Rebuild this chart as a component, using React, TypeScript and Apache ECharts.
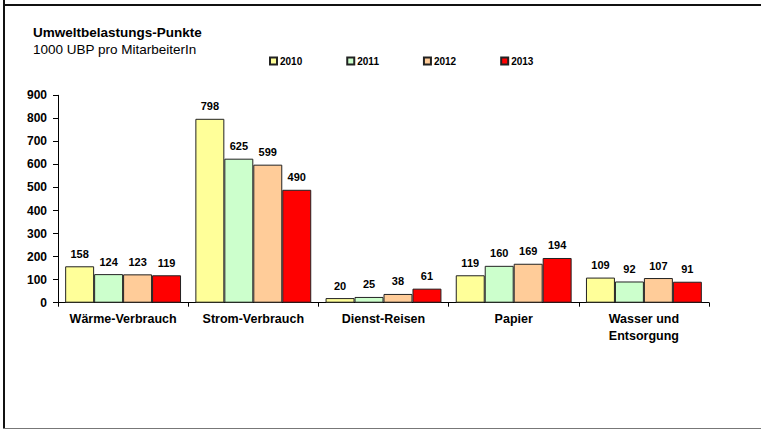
import React, { useEffect, useRef } from "react";
import * as echarts from "echarts";

const categories = ["Wärme-Verbrauch", "Strom-Verbrauch", "Dienst-Reisen", "Papier", "Wasser und\nEntsorgung"];
const years = ["2010", "2011", "2012", "2013"];
const v2010 = [158, 798, 20, 119, 109];
const v2011 = [124, 625, 25, 160, 92];
const v2012 = [123, 599, 38, 169, 107];
const v2013 = [119, 490, 61, 194, 91];
const colors = ["#FFFF99", "#CCFFCC", "#FFCC99", "#FF0000"];
const yTicks = [0, 100, 200, 300, 400, 500, 600, 700, 800, 900];

const FONT = "Liberation Sans, Arial, sans-serif";

export default function App() {
  const ref = useRef<HTMLDivElement>(null);
  useEffect(() => {
    const chart = echarts.init(ref.current!, null, { renderer: "svg" });
    const all = [v2010, v2011, v2012, v2013];
    chart.setOption({
      animation: false,
      backgroundColor: "#ffffff",
      textStyle: { fontFamily: FONT },
      graphic: [
        { type: "line", shape: { x1: 4, y1: 0, x2: 4, y2: 429 }, style: { stroke: "#111", lineWidth: 2 } },
        { type: "line", shape: { x1: 3, y1: 5, x2: 761, y2: 5 }, style: { stroke: "#111", lineWidth: 2 } },
        { type: "line", shape: { x1: 3, y1: 428.5, x2: 761, y2: 428.5 }, style: { stroke: "#777", lineWidth: 1 } },
        {
          type: "text", left: 33, top: 25.5,
          style: { text: "Umweltbelastungs-Punkte", font: "bold 13.5px " + FONT, fill: "#000" },
        },
        {
          type: "text", left: 33, top: 42.5,
          style: { text: "1000 UBP pro MitarbeiterIn", font: "13.5px " + FONT, fill: "#000" },
        },
      ],
      legend: {
        left: 264,
        top: 51,
        itemWidth: 7,
        itemHeight: 7,
        itemGap: 44,
        icon: "rect",
        data: years,
        textStyle: { fontFamily: FONT, fontSize: 10, fontWeight: "bold", color: "#000", padding: [0, 0, 0, -2] },
      },
      grid: { left: 58, right: 52, top: 95.3, bottom: 126.3, containLabel: false },
      xAxis: {
        type: "category",
        data: categories,
        axisLine: { lineStyle: { color: "#000", width: 1 } },
        axisTick: { show: true, length: 4, lineStyle: { color: "#000" }, inside: false },
        axisLabel: {
          fontFamily: FONT, fontSize: 12.5, fontWeight: "bold", color: "#000",
          margin: 8, lineHeight: 17, interval: 0,
        },
      },
      yAxis: {
        type: "value",
        min: yTicks[0],
        max: yTicks[yTicks.length - 1],
        interval: 100,
        splitLine: { show: false },
        axisLine: { show: true, lineStyle: { color: "#000", width: 1 } },
        axisTick: { show: true, length: 5, lineStyle: { color: "#000" } },
        axisLabel: { fontFamily: FONT, fontSize: 12, fontWeight: "bold", color: "#000", margin: 11 },
      },
      series: years.map((y, i) => ({
        name: y,
        type: "bar",
        data: all[i],
        barGap: "0%",
        barCategoryGap: "11%",
        itemStyle: { color: colors[i], borderColor: "#222", borderWidth: 1 },
        label: {
          show: true, position: "top", distance: 7,
          fontFamily: FONT, fontSize: 11, fontWeight: "bold", color: "#000",
        },
      })),
    });
    return () => chart.dispose();
  }, []);
  return <div ref={ref} style={{ position: "fixed", left: 0, top: 0, width: 761, height: 429 }} />;
}
